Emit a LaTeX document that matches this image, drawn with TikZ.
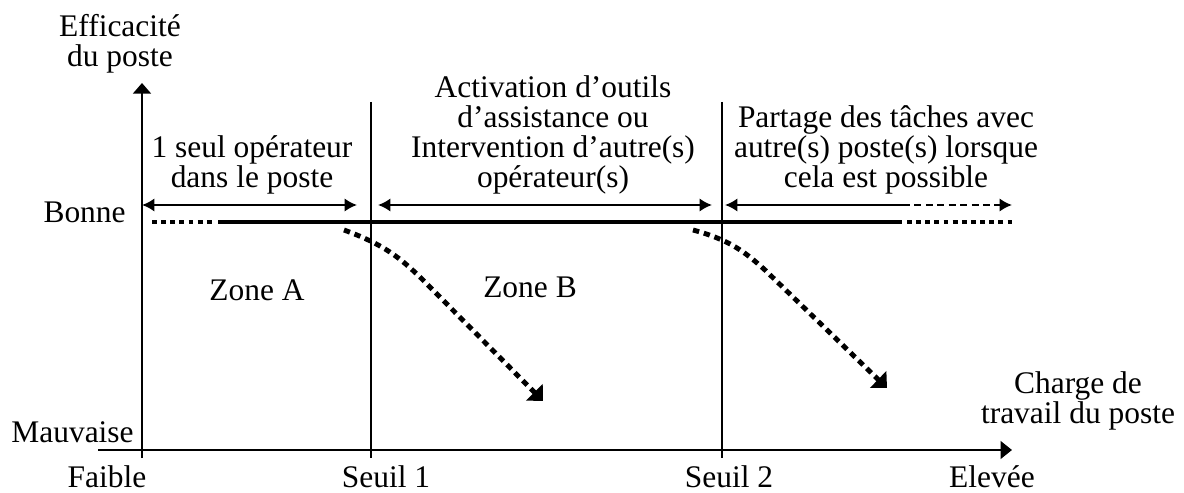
\documentclass[tikz,border=0pt]{standalone}
\usepackage{fontspec}
\setmainfont{Liberation Serif}
\usetikzlibrary{arrows.meta}
\begin{document}
\begin{tikzpicture}[x=0.02cm,y=-0.02cm,
  txt/.style={inner sep=0pt,align=center,font=\fontsize{17.9}{17}\selectfont},
  axe/.style={line width=1.5pt},
  seuil/.style={line width=1.2pt},
  fleche/.style={line width=1.2pt},
  niveau/.style={line width=2.8pt},
  pointille/.style={line width=2.8pt,dash pattern=on 2.8pt off 2.4pt},
  chute/.style={line width=2.8pt,dash pattern=on 3.6pt off 2.8pt,-{Triangle[length=7pt,width=13pt]}}]
  \useasboundingbox (0,0) rectangle (1184,493);
  % axes
  \coordinate (O) at (142,458) ;
  \coordinate (Y) at (142,83) ;
  \coordinate (X0) at (98,450) ;
  \coordinate (X) at (1012,450) ;
  \draw[axe,-{Triangle[length=6pt,width=10pt]}] (O) -- (Y) ;
  \draw[axe,-{Triangle[length=6.5pt,width=10pt]}] (X0) -- (X) ;
  \node[txt] (eff) at (120,44) {Efficacit\'e\\du poste} ;
  \node[txt] (charge) at (1078,401) {Charge de\\travail du poste} ;
  \node[txt,anchor=east] (bonne) at (126,212) {Bonne} ;
  \node[txt,anchor=east] (mauv) at (134,432) {Mauvaise} ;
  \node[txt] (faible) at (107,477) {Faible} ;
  \node[txt] (elev) at (992,477) {Elev\'ee} ;
  % seuils
  \coordinate (S1h) at (371,102) ;
  \coordinate (S1b) at (371,458) ;
  \coordinate (S2h) at (722,102) ;
  \coordinate (S2b) at (722,458) ;
  \draw[seuil] (S1h) -- (S1b) ;
  \draw[seuil] (S2h) -- (S2b) ;
  \node[txt] (s1) at (386,477) {Seuil 1} ;
  \node[txt] (s2) at (729,477) {Seuil 2} ;
  % zones
  \node[txt] (za) at (257,290) {Zone A} ;
  \node[txt] (zb) at (530,287) {Zone B} ;
  \node[txt] (ta) at (252,165) {1 seul op\'erateur\\dans le poste} ;
  \node[txt] (tb) at (553,135) {Activation d'outils\\d'assistance ou\\Intervention d'autre(s)\\op\'erateur(s)} ;
  \node[txt] (tc) at (886,150) {Partage des t\^aches avec\\autre(s) poste(s) lorsque\\cela est possible} ;
  \coordinate (A1) at (142,205) ;
  \coordinate (A2) at (357,205) ;
  \coordinate (B1) at (378,205) ;
  \coordinate (B2) at (712,205) ;
  \coordinate (C1) at (725,205) ;
  \coordinate (Cm) at (903,205) ;
  \coordinate (C2) at (1012,205) ;
  \draw[fleche,{Latex[length=7pt,width=7.5pt]}-{Latex[length=7pt,width=7.5pt]}] (A1) -- (A2) ;
  \draw[fleche,{Latex[length=7pt,width=7.5pt]}-{Latex[length=7pt,width=7.5pt]}] (B1) -- (B2) ;
  \draw[fleche,{Latex[length=7pt,width=7.5pt]}-] (C1) -- (Cm) ;
  \draw[fleche,dash pattern=on 4pt off 2.5pt,-{Latex[length=7pt,width=7.5pt]}] (Cm) -- (C2) ;
  % efficacite du poste
  \coordinate (L0) at (152,222) ;
  \coordinate (L1) at (212,222) ;
  \coordinate (L2) at (218,222) ;
  \coordinate (L3) at (902,222) ;
  \coordinate (L4) at (907,222) ;
  \coordinate (L5) at (1012,222) ;
  \draw[pointille] (L0) -- (L1) ;
  \draw[niveau] (L2) -- (L3) ;
  \draw[pointille] (L4) -- (L5) ;
  \coordinate (D1) at (344,230) ;
  \coordinate (D1m) at (421,278) ;
  \coordinate (D1f) at (543,401) ;
  \coordinate (D2) at (693,230) ;
  \coordinate (D2m) at (765,270) ;
  \coordinate (D2f) at (887,388) ;
  \draw[chute] (D1) .. controls (385,245) and (400,258) .. (D1m) -- (D1f) ;
  \draw[chute] (D2) .. controls (730,240) and (745,252) .. (D2m) -- (D2f) ;
\end{tikzpicture}
\end{document}
